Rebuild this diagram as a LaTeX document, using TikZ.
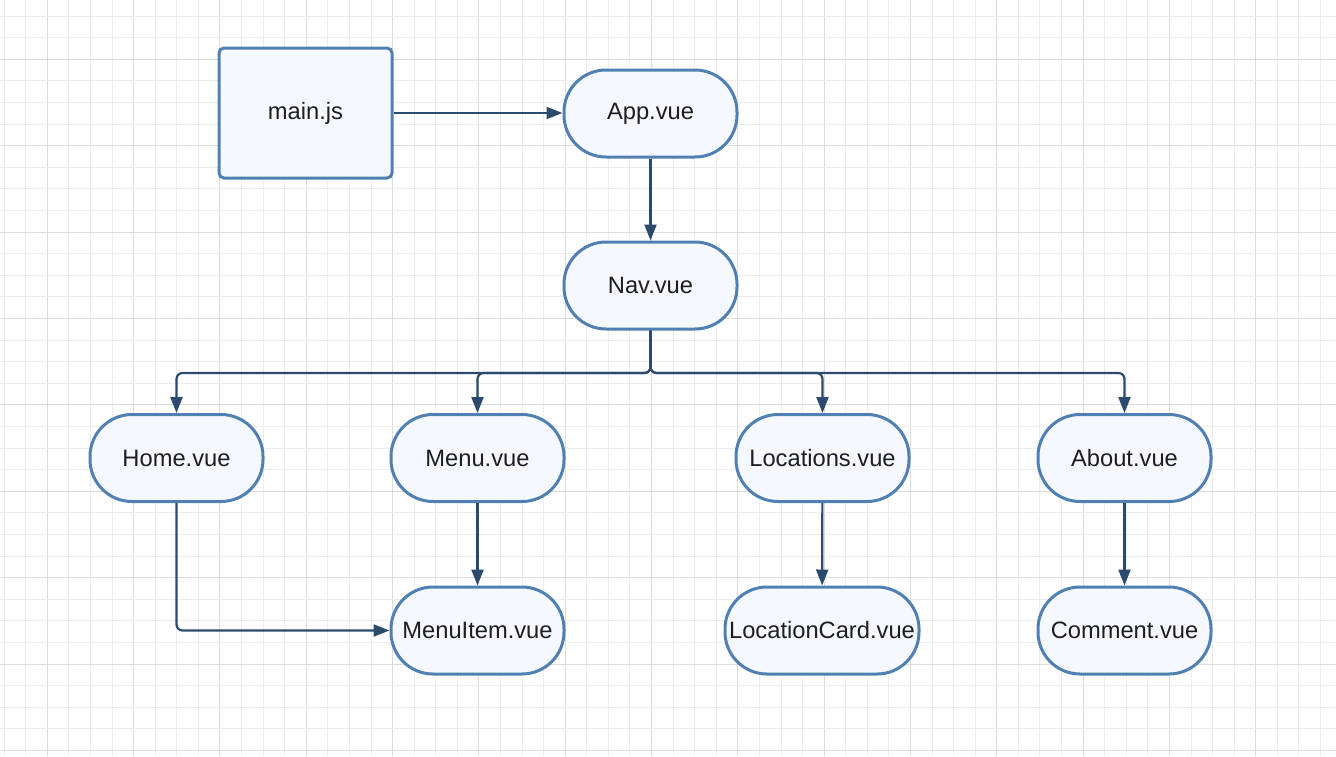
\documentclass[tikz,border=0pt]{standalone}
\usepackage{fontspec}
\setmainfont{Liberation Sans}
\usetikzlibrary{arrows.meta}
\definecolor{gridminor}{HTML}{EDEDED}
\definecolor{gridmajor}{HTML}{DCDCDC}
\definecolor{nodeborder}{HTML}{5080B2}
\definecolor{nodefill}{HTML}{F5F9FF}
\definecolor{conn}{HTML}{2C4A6E}
\definecolor{txt}{HTML}{1E1E1E}
\tikzset{
  box/.style={draw=nodeborder, line width=3pt, fill=nodefill, rounded corners=5pt,
    minimum width=173pt, minimum height=130pt, inner sep=0pt, text=txt,
    font=\fontsize{23.7}{28}\selectfont},
  pill/.style={draw=nodeborder, line width=3pt, fill=nodefill, rounded corners=42pt,
    minimum width=173pt, minimum height=87pt, inner sep=0pt, text=txt,
    font=\fontsize{23.7}{28}\selectfont},
  link/.style={draw=conn, line width=2.2pt, rounded corners=6pt,
    -{Triangle[length=16pt,width=12pt]}},
}
\begin{document}
\begin{tikzpicture}[x=1pt,y=-1pt]
\useasboundingbox (0,0) rectangle (1336,756);
\fill[white] (0,0) rectangle (1336,756);
% grid
\foreach \i in {0,...,62} {
  \pgfmathtruncatemacro{\m}{mod(\i+2,4)}
  \ifnum\m=0
    \draw[gridmajor, line width=1.1pt] ({4.14+\i*21.58},0) -- ({4.14+\i*21.58},756);
  \else
    \draw[gridminor, line width=1pt] ({4.14+\i*21.58},0) -- ({4.14+\i*21.58},756);
  \fi
}
\foreach \i in {0,...,35} {
  \pgfmathtruncatemacro{\m}{mod(\i+2,4)}
  \ifnum\m=0
    \draw[gridmajor, line width=1.1pt] (0,{16.1+\i*21.6}) -- (1336,{16.1+\i*21.6});
  \else
    \draw[gridminor, line width=1pt] (0,{16.1+\i*21.6}) -- (1336,{16.1+\i*21.6});
  \fi
}
% nodes
\node[box] (main) at (305.5,113) {main.js};
\node[pill] (app) at (650.5,113.5) {App.vue};
\node[pill] (nav) at (650.5,285.5) {Nav.vue};
\node[pill] (home) at (176.5,458) {Home.vue};
\node[pill] (menu) at (477.5,458) {Menu.vue};
\node[pill] (loc) at (822.5,458) {Locations.vue};
\node[pill] (about) at (1124.5,458) {About.vue};
\node[pill] (item) at (477.5,630.5) {MenuItem.vue};
\node[pill, minimum width=194pt] (card) at (822,630.5) {LocationCard.vue};
\node[pill] (comment) at (1124.5,630.5) {Comment.vue};
% connectors
\coordinate (split) at (650.5,373);
\draw[link] (main.east) -- (main.east -| app.west);
\draw[link] (app) -- (nav);
\foreach \c in {home,menu,loc,about} {
  \draw[link] (nav.south) -- (split) -- (split -| \c.north) -- (\c.north);
}
\draw[link] (menu) -- (item);
\draw[link] (loc) -- (card);
\draw[link] (about) -- (comment);
\draw[link] (home.south) -- (home.south |- item.west) -- (item.west);
\end{tikzpicture}
\end{document}
